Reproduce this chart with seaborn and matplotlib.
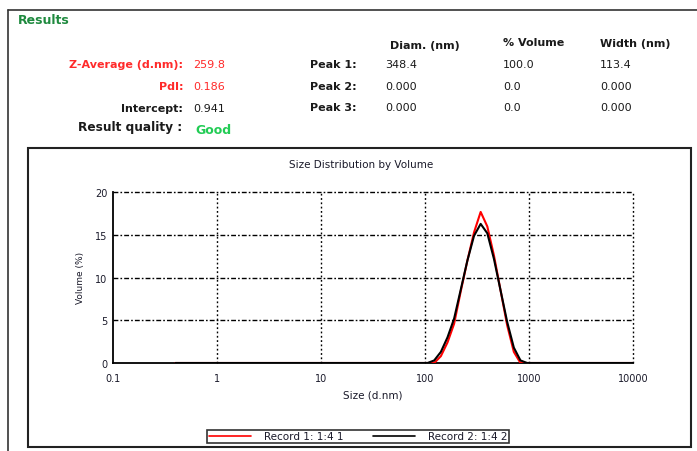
import matplotlib
matplotlib.use("Agg")
import matplotlib.pyplot as plt
from matplotlib.lines import Line2D
from matplotlib.patches import Rectangle
import seaborn as sns
import pandas as pd

# ---- measurement summary ----
z_average = "259.8"
pdi = "0.186"
intercept = "0.941"
quality = "Good"

peak_names = ["Peak 1:", "Peak 2:", "Peak 3:"]
peak_diam = ["348.4", "0.000", "0.000"]
peak_volume = ["100.0", "0.0", "0.0"]
peak_width = ["113.4", "0.000", "0.000"]

# ---- size distribution by volume ----
sizes_nm = [0.4, 91.28, 105.7, 122.4, 141.8, 164.2, 190.1, 220.2, 255.0, 295.3,
            342.0, 396.1, 458.7, 531.2, 615.1, 712.4, 825.0, 955.4, 1106.0, 10000.0]
record_1 = [0.0, 0.0, 0.0, 0.0, 0.8, 2.4, 4.6, 8.4, 12.0, 15.3,
            17.7, 16.0, 12.6, 8.5, 4.4, 1.3, 0.0, 0.0, 0.0, 0.0]
record_2 = [0.0, 0.0, 0.0, 0.3, 1.3, 3.0, 5.2, 8.6, 12.0, 14.9,
            16.3, 15.2, 12.2, 8.5, 4.8, 1.8, 0.3, 0.0, 0.0, 0.0]
record_names = ["Record 1: 1:4 1", "Record 2: 1:4 2"]
record_colors = ["#ff0000", "#000000"]

x_ticks = [0.1, 1, 10, 100, 1000, 10000]
x_tick_labels = ["0.1", "1", "10", "100", "1000", "10000"]
y_ticks = [0, 5, 10, 15, 20]
y_tick_labels = ["0", "5", "10", "15", "20"]

df = pd.DataFrame({
    "Size (d.nm)": sizes_nm * 2,
    "Volume (%)": record_1 + record_2,
    "Record": [record_names[0]] * len(sizes_nm) + [record_names[1]] * len(sizes_nm),
})

sns.set_style("white")
plt.rcParams["font.family"] = ["DejaVu Sans"]

W, H = 697, 452
fig = plt.figure(figsize=(W / 100, H / 100), dpi=100)


def fx(x):
    return x / W


def fy(y):
    return 1 - y / H


# report frames
fig.add_artist(Line2D([fx(8), fx(697)], [fy(11), fy(11)], color="#333333", lw=1.2))
fig.add_artist(Line2D([fx(8), fx(8)], [fy(11), fy(452)], color="#333333", lw=1.2))
fig.add_artist(Rectangle((fx(28), fy(448)), fx(691) - fx(28), fy(149) - fy(448),
                         fill=False, edgecolor="#222222", lw=1.5))

# results block
fig.text(fx(18), fy(20), "Results", color="#1f8a3f", fontsize=9, fontweight="bold",
         ha="left", va="center")

red_txt = "#ff2a2a"
dark = "#1a1a1a"
rows = [("Z-Average (d.nm):", z_average, red_txt, 65),
        ("PdI:", pdi, red_txt, 87),
        ("Intercept:", intercept, dark, 109)]
for label, value, col, y in rows:
    fig.text(fx(183), fy(y), label, color=col, fontsize=8, fontweight="bold",
             ha="right", va="center")
    fig.text(fx(193), fy(y), value, color=col, fontsize=8, ha="left", va="center")

fig.text(fx(182), fy(128), "Result quality :", color=dark, fontsize=8.7,
         fontweight="bold", ha="right", va="center")
fig.text(fx(195), fy(131), quality, color="#22cc55", fontsize=9, fontweight="bold",
         ha="left", va="center")

headers = [("Diam. (nm)", 390, 46), ("% Volume", 503, 43), ("Width (nm)", 600, 44)]
for text, x, y in headers:
    fig.text(fx(x), fy(y), text, color=dark, fontsize=8, fontweight="bold",
             ha="left", va="center")

row_y = [65, 87, 108]
for name, d, v, w, y in zip(peak_names, peak_diam, peak_volume, peak_width, row_y):
    fig.text(fx(310), fy(y), name, color=dark, fontsize=8, fontweight="bold",
             ha="left", va="center")
    fig.text(fx(385), fy(y), d, color=dark, fontsize=8, ha="left", va="center")
    fig.text(fx(503), fy(y), v, color=dark, fontsize=8, ha="left", va="center")
    fig.text(fx(600), fy(y), w, color=dark, fontsize=8, ha="left", va="center")

# distribution chart
ax_left, ax_right, ax_top, ax_bottom = 112.7, 633.3, 193.3, 364.0
ax = fig.add_axes([fx(ax_left), fy(ax_bottom), (ax_right - ax_left) / W,
                   (ax_bottom - ax_top) / H])

sns.lineplot(data=df, x="Size (d.nm)", y="Volume (%)", hue="Record",
             palette=record_colors, linewidth=1.5, ax=ax, legend=False, sort=False)

ax.set_xscale("log")
ax.set_xlim(x_ticks[0], x_ticks[-1])
ax.set_ylim(y_ticks[0], y_ticks[-1])

for yv in y_ticks[1:]:
    ax.axhline(yv, color="black", lw=1.0, ls=(0, (3.5, 1.5, 1.2, 1.5)),
               clip_on=False, zorder=1)
for xv in x_ticks[1:]:
    ax.axvline(xv, color="black", lw=1.0, ls=(0, (1.3, 1.8)), clip_on=False, zorder=1)

for side in ["top", "right"]:
    ax.spines[side].set_visible(False)
for side in ["left", "bottom"]:
    ax.spines[side].set_color("black")
    ax.spines[side].set_linewidth(1.3)
    ax.spines[side].set_zorder(1.5)

ax.set_xticks(x_ticks)
ax.set_xticklabels(x_tick_labels)
ax.set_yticks(y_ticks)
ax.set_yticklabels(y_tick_labels)
ax.set_yticks([2.5, 7.5, 12.5, 17.5], minor=True)
ax.xaxis.set_minor_locator(matplotlib.ticker.LogLocator(base=10, subs=range(2, 10)))
ax.xaxis.set_minor_formatter(matplotlib.ticker.NullFormatter())
ax.tick_params(axis="both", which="major", direction="inout", length=6, width=1.1,
               labelsize=7, colors="black", labelcolor="#1a1a2a")
ax.tick_params(axis="both", which="minor", direction="inout", length=4, width=1.0,
               colors="black")
ax.tick_params(axis="x", which="major", pad=4)
ax.tick_params(axis="y", which="major", pad=1)
ax.grid(False)

ax.set_xlabel("Size (d.nm)", fontsize=7.5, color="#1a1a2a")
ax.xaxis.set_label_coords(0.5, (ax_bottom - 396) / (ax_bottom - ax_top))
ax.xaxis.label.set_va("center")
ax.set_ylabel("Volume (%)", fontsize=6.5, color="#1a1a2a")
ax.yaxis.set_label_coords((80 - ax_left) / (ax_right - ax_left), 0.504)
ax.yaxis.label.set_va("center")

fig.text(fx(361), fy(165), "Size Distribution by Volume", fontsize=7.5,
         color="#1a1a2a", ha="center", va="center")

handles = [Line2D([0], [0], color=c, lw=1.2) for c in record_colors]
leg = fig.legend(handles, record_names, loc="center",
                 bbox_to_anchor=(fx(358), fy(437.5)), ncol=2, fontsize=7.5,
                 frameon=True, fancybox=False, handlelength=4.1, handletextpad=1.2,
                 columnspacing=2.8, borderpad=0.15, borderaxespad=0)
leg.get_frame().set_edgecolor("black")
leg.get_frame().set_linewidth(1.2)
for t in leg.get_texts():
    t.set_color("#1a1a2a")

fig.savefig("out.png", dpi=100)
